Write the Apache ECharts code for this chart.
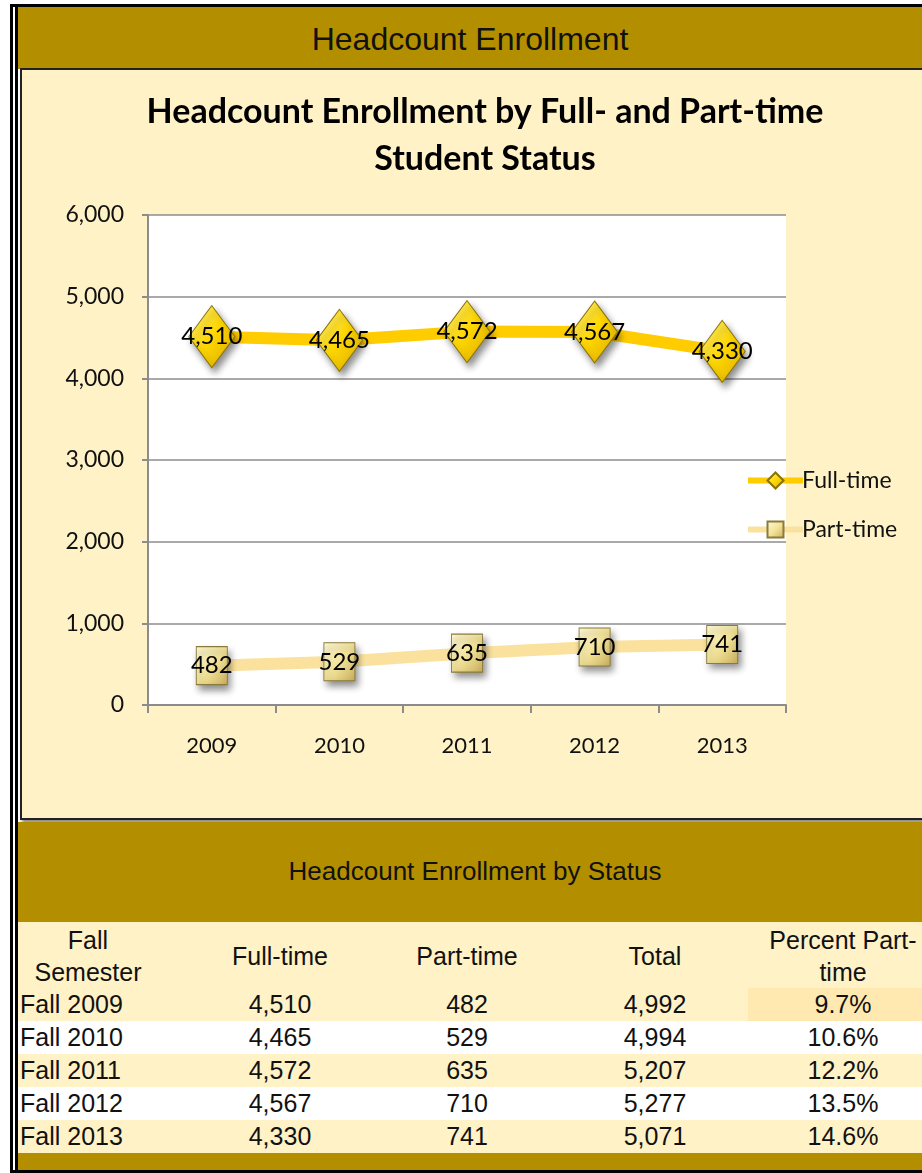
<!DOCTYPE html>
<html>
<head>
<meta charset="utf-8">
<script src="https://cdn.jsdelivr.net/npm/echarts@6/dist/echarts.min.js"></script>
<style>
  body { margin: 0; background: #fff; }
  #page { position: relative; width: 922px; height: 1173px; overflow: hidden; font-family: "Liberation Sans", Arial, sans-serif; color: #111; }
  .abs { position: absolute; }
  .gold { background: #b38f00; }
  .cream { background: #fff2c6; }
  .cell { position: absolute; text-align: center; font-size: 25px; line-height: 33px; white-space: nowrap; }
  #chart { position: absolute; left: 0; top: 0; width: 922px; height: 822px; }
</style>
</head>
<body>
<div id="page">
  <!-- outer frame -->
  <div class="abs" style="left:10px;top:4px;width:912px;height:3px;background:#000"></div>
  <div class="abs" style="left:10px;top:4px;width:3px;height:1169px;background:#000"></div>
  <div class="abs" style="left:15px;top:7px;width:3px;height:1166px;background:#000"></div>
  <div class="abs" style="left:10px;top:1170px;width:912px;height:3px;background:#000"></div>

  <div class="abs gold" style="left:18px;top:7px;width:904px;height:62px;"></div>
  <div class="abs" style="left:18px;top:19px;width:904px;text-align:center;font-size:32px;line-height:40px;">Headcount Enrollment</div>

  <div class="abs cream" style="left:20px;top:68px;width:920px;height:748px;border:2px solid #222;box-shadow:2px 3px 3px rgba(0,0,0,0.45);"></div>

  <div class="abs gold" style="left:18px;top:822px;width:904px;height:100px;"></div>
  <div class="abs" style="left:18px;top:854px;width:914px;text-align:center;font-size:26px;line-height:34px;">Headcount Enrollment by Status</div>

  <div id="table"></div>
  <div class="abs gold" style="left:18px;top:1153px;width:904px;height:17px;"></div>

  <div id="chart"></div>
</div>
<script>
var years = ['2009', '2010', '2011', '2012', '2013'];
var fullTime = [4510, 4465, 4572, 4567, 4330];
var partTime = [482, 529, 635, 710, 741];

var fmt = function(v) { return v.toLocaleString('en-US'); };

// 表格
var table = document.getElementById('table');
var html = '';
html += '<div class="abs cream" style="left:18px;top:922px;width:904px;height:66px;"></div>';
var colX = [88, 280, 467, 655, 843];
var heads = ['Fall<br>Semester', 'Full-time', 'Part-time', 'Total', 'Percent Part-<br>time'];
heads.forEach(function(h, i) {
  var top = h.indexOf('<br>') > 0 ? 924 : 940;
  html += '<div class="cell" style="left:' + (colX[i] - 90) + 'px;width:180px;top:' + top + 'px;line-height:32px;">' + h + '</div>';
});
years.forEach(function(y, r) {
  var top = 988 + r * 33;
  var total = fullTime[r] + partTime[r];
  var pct = (partTime[r] / total * 100).toFixed(1) + '%';
  var bg = r % 2 === 0 ? '#fff2c6' : '#ffffff';
  html += '<div class="abs" style="left:18px;top:' + top + 'px;width:904px;height:33px;background:' + bg + '"></div>';
  if (r === 0) html += '<div class="abs" style="left:748px;top:' + top + 'px;width:174px;height:33px;background:#ffe9b0"></div>';
  html += '<div class="cell" style="left:20px;top:' + top + 'px;text-align:left;">Fall ' + y + '</div>';
  [fmt(fullTime[r]), fmt(partTime[r]), fmt(total), pct].forEach(function(t, i) {
    html += '<div class="cell" style="left:' + (colX[i + 1] - 90) + 'px;width:180px;top:' + top + 'px;">' + t + '</div>';
  });
});
table.innerHTML = html;

var chart = echarts.init(document.getElementById('chart'), null, { renderer: 'canvas' });
var font = 'Lato, "Open Sans", sans-serif';

var option = {
  backgroundColor: 'transparent',
  animation: false,
  title: {
    text: 'Headcount Enrollment by Full- and Part-time\nStudent Status',
    left: 480,
    top: 84,
    textAlign: 'center',
    textStyle: { fontFamily: font, fontWeight: 'bold', fontSize: 34, lineHeight: 47, color: '#000' }
  },
  legend: {
    orient: 'vertical',
    left: 740,
    top: 464,
    itemWidth: 55,
    itemHeight: 20,
    itemGap: 26,
    lineStyle: { width: 6 },
    textStyle: { fontFamily: font, fontSize: 23, color: '#111', padding: [0, 0, 0, -6] },
    data: ['Full-time', 'Part-time']
  },
  grid: {
    left: 148, top: 215, width: 638, height: 490,
    show: true, backgroundColor: '#ffffff', borderWidth: 0
  },
  xAxis: {
    type: 'category',
    data: years,
    axisLine: { lineStyle: { color: '#8c8c8c', width: 2 } },
    axisTick: { show: true, length: 8, lineStyle: { color: '#8c8c8c', width: 2 } },
    axisLabel: { fontFamily: font, fontSize: 22, color: '#111', margin: 30 }
  },
  yAxis: {
    type: 'value',
    min: 0, max: 6000, interval: 1000,
    axisLine: { show: true, lineStyle: { color: '#8c8c8c', width: 2 } },
    axisTick: { show: true, length: 6, lineStyle: { color: '#8c8c8c', width: 2 } },
    splitLine: { lineStyle: { color: '#8c8c8c', width: 1.5 } },
    axisLabel: { fontFamily: font, fontSize: 23, color: '#111', margin: 24,
      formatter: function(v) { return fmt(v); } }
  },
  series: [{
    name: 'Full-time',
    type: 'line',
    data: fullTime,
    symbol: 'diamond',
    symbolSize: [46, 62],
    lineStyle: { color: '#ffcc00', width: 12 },
    itemStyle: {
      color: new echarts.graphic.LinearGradient(0, 0, 1, 1, [
        { offset: 0, color: '#fff58a' },
        { offset: 0.5, color: '#ffd700' },
        { offset: 1, color: '#d9a900' }
      ]),
      borderColor: '#8a7200', borderWidth: 1,
      shadowBlur: 7, shadowColor: 'rgba(0,0,0,0.45)', shadowOffsetX: 3, shadowOffsetY: 5
    },
    label: { show: true, position: 'inside', fontFamily: font, fontSize: 24, color: '#000',
      formatter: function(p) { return fmt(p.value); } },
    z: 3
  }, {
    name: 'Part-time',
    type: 'line',
    data: partTime,
    symbol: 'rect',
    symbolSize: [31, 38],
    lineStyle: { color: '#fae29e', width: 12 },
    itemStyle: {
      color: new echarts.graphic.LinearGradient(0, 0, 1, 1, [
        { offset: 0, color: '#fffbd8' },
        { offset: 0.5, color: '#f3e49a' },
        { offset: 1, color: '#c8ad5c' }
      ]),
      borderColor: '#8b7a3a', borderWidth: 1,
      shadowBlur: 7, shadowColor: 'rgba(0,0,0,0.45)', shadowOffsetX: 3, shadowOffsetY: 5
    },
    label: { show: true, position: 'inside', fontFamily: font, fontSize: 24, color: '#000',
      formatter: function(p) { return fmt(p.value); } },
    z: 2
  }]
};
chart.setOption(option);
</script>
</body>
</html>
